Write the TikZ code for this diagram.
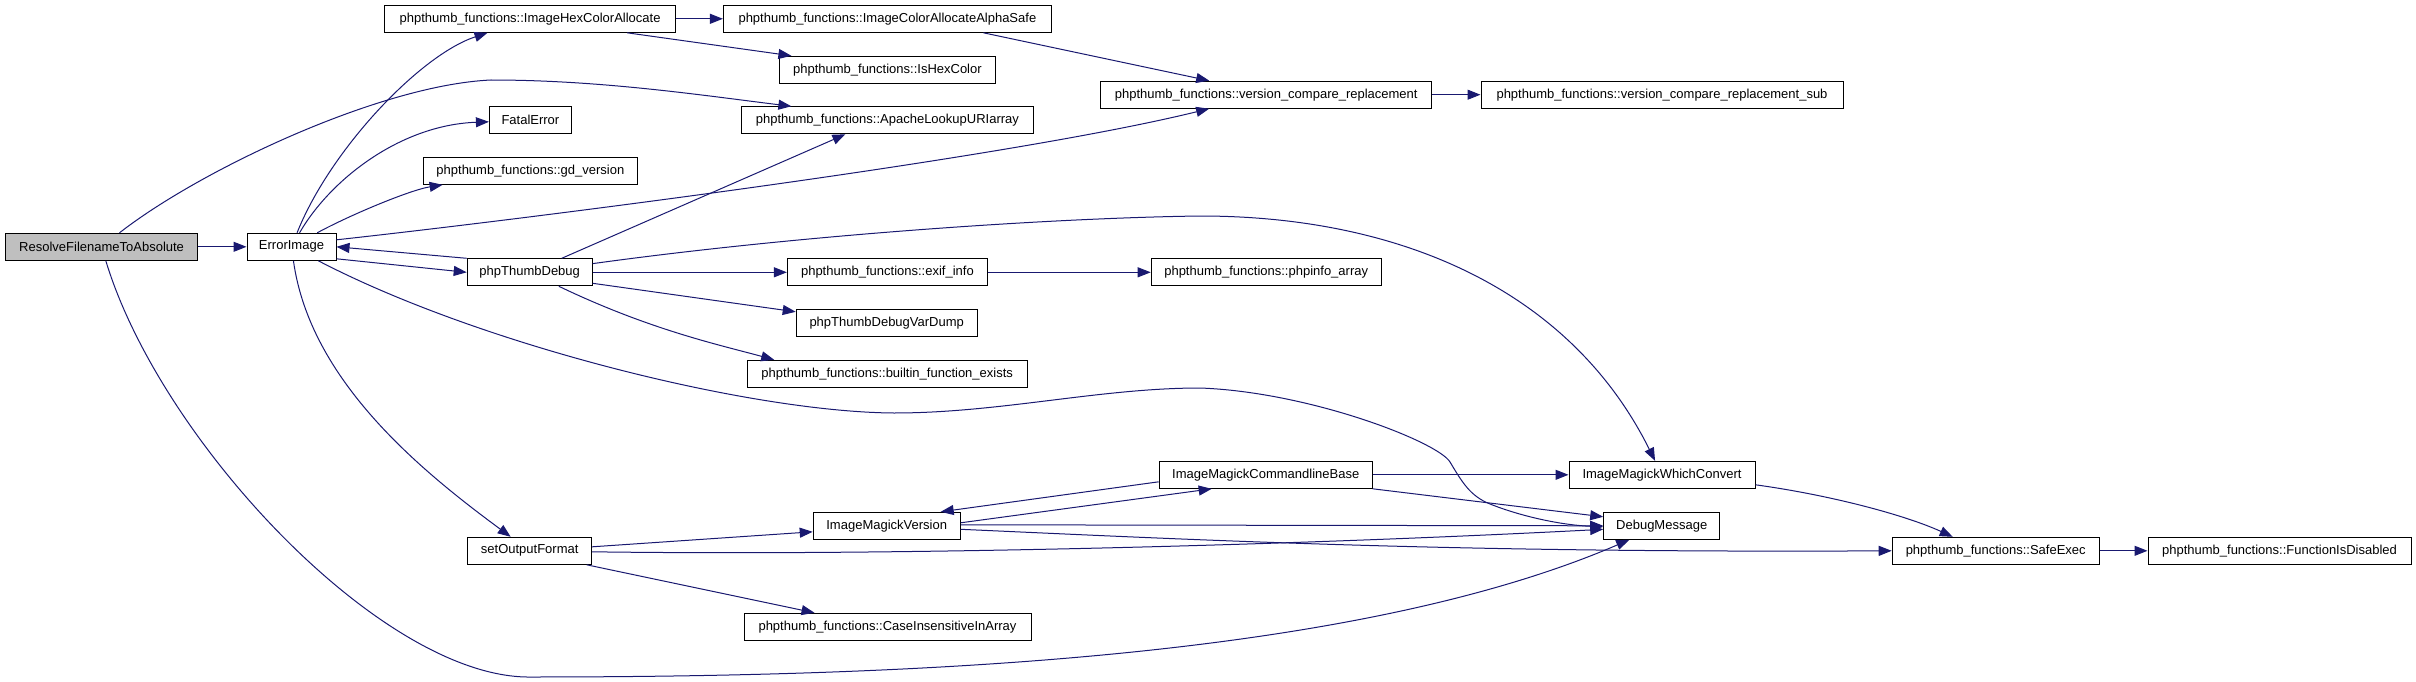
\documentclass[tikz,border=0pt]{standalone}
\usepackage{fontspec}
\setmainfont{Liberation Sans}
\usetikzlibrary{arrows.meta}
\definecolor{edgeblue}{HTML}{191970}
\definecolor{rootgray}{HTML}{BFBFBF}

\begin{document}
\begin{tikzpicture}[x=1pt, y=-1pt,
  fn/.style={rectangle, draw, line width=1pt, fill=white, minimum width=#1, minimum height=27pt, inner xsep=2pt, font=\fontsize{13}{15}\selectfont},
  call/.style={-{Triangle[length=13pt,width=10pt]}, edgeblue, line width=1pt}
]
  \useasboundingbox (0,0) rectangle (2416,682);
  % functions
  \node[fn=192pt, fill=rootgray] (resolve) at (101.6,246.8) {ResolveFilenameToAbsolute};
  \node[fn=89pt] (errimg) at (291.5,246.8) {ErrorImage};
  \node[fn=291pt] (hexcolor) at (530.1,18.8) {phpthumb\_functions::ImageHexColorAllocate};
  \node[fn=82pt] (fatal) at (530.4,120.3) {FatalError};
  \node[fn=214pt] (gdver) at (530.4,170.8) {phpthumb\_functions::gd\_version};
  \node[fn=125pt] (thumbdbg) at (529.7,272.3) {phpThumbDebug};
  \node[fn=124pt] (outfmt) at (529.7,550.8) {setOutputFormat};
  \node[fn=328pt] (alphasafe) at (887.4,18.8) {phpthumb\_functions::ImageColorAllocateAlphaSafe};
  \node[fn=216pt] (ishex) at (887.4,69.8) {phpthumb\_functions::IsHexColor};
  \node[fn=292pt] (apache) at (887.4,120.3) {phpthumb\_functions::ApacheLookupURIarray};
  \node[fn=200pt] (exif) at (887.4,272.3) {phpthumb\_functions::exif\_info};
  \node[fn=181pt] (vardump) at (886.7,322.8) {phpThumbDebugVarDump};
  \node[fn=280pt] (builtin) at (887.2,373.8) {phpthumb\_functions::builtin\_function\_exists};
  \node[fn=147pt] (imver) at (886.7,525.8) {ImageMagickVersion};
  \node[fn=287pt] (caseins) at (887.5,626.8) {phpthumb\_functions::CaseInsensitiveInArray};
  \node[fn=331pt] (vcr) at (1266.2,94.7) {phpthumb\_functions::version\_compare\_replacement};
  \node[fn=230pt] (phpinfo) at (1266.2,272.3) {phpthumb\_functions::phpinfo\_array};
  \node[fn=213pt] (clbase) at (1265.7,474.8) {ImageMagickCommandlineBase};
  \node[fn=362pt] (vcrsub) at (1662,94.7) {phpthumb\_functions::version\_compare\_replacement\_sub};
  \node[fn=186pt] (whichconv) at (1662,474.8) {ImageMagickWhichConvert};
  \node[fn=116pt] (debugmsg) at (1661.7,525.8) {DebugMessage};
  \node[fn=207pt] (safeexec) at (1995.7,550.8) {phpthumb\_functions::SafeExec};
  \node[fn=263pt] (fdisabled) at (2279.5,550.8) {phpthumb\_functions::FunctionIsDisabled};

  % calls from the root
  \draw[call] (resolve) -- (errimg);
  \draw[call] (resolve) .. controls (200,170) and (380,85) .. (491,80) .. controls (600,80) and (700,95) .. ([xshift=-96pt]apache.north);
  \draw[call] (resolve) .. controls (160,440) and (380,675) .. (527,677) .. controls (900,677) and (1350,660) .. (debugmsg);
  % ErrorImage
  \draw[call] (errimg) .. controls (330,150) and (420,55) .. (hexcolor);
  \draw[call] (errimg) .. controls (330,180) and (400,125) .. (fatal);
  \draw[call] (errimg) .. controls (350,215) and (410,190) .. (gdver);
  \draw[call] ([yshift=-12pt]errimg.east) -- (thumbdbg.west);
  \draw[call] ([yshift=7pt]errimg.east) .. controls (500,222) and (1000,160) .. (vcr);
  \draw[call] (errimg) .. controls (480,345) and (750,412) .. (894,413) .. controls (1000,413) and (1100,388) .. (1200,388) .. controls (1310,392) and (1438,442) .. (1450,462) .. controls (1462,482) and (1470,496) .. (1490,504) .. controls (1520,516) and (1560,525) .. ([yshift=-1pt]debugmsg.west);
  \draw[call] (errimg) .. controls (310,380) and (420,470) .. (outfmt);
  % phpThumbDebug
  \draw[call] (thumbdbg.north west) -- (errimg.east);
  \draw[call] ([xshift=32pt]thumbdbg.north) -- ([xshift=-42pt]apache.south);
  \draw[call] (thumbdbg) .. controls (800,235) and (1050,218) .. (1200,216) .. controls (1400,216) and (1570,290) .. (whichconv);
  \draw[call] (thumbdbg) -- (exif);
  \draw[call] ([yshift=-11pt]thumbdbg.east) -- ([yshift=11pt]vardump.west);
  \draw[call] (thumbdbg) .. controls (650,330) and (720,345) .. ([xshift=-113pt]builtin.north);
  % helpers
  \draw[call] (hexcolor) -- (alphasafe);
  \draw[call] ([xshift=97pt]hexcolor.south) -- ([xshift=-96pt]ishex.north);
  \draw[call] ([xshift=96pt]alphasafe.south) -- ([xshift=-57pt]vcr.north);
  \draw[call] (vcr) -- (vcrsub);
  \draw[call] (exif) -- (phpinfo);
  % setOutputFormat
  \draw[call] ([yshift=4pt]outfmt.east) -- ([yshift=-6pt]imver.west);
  \draw[call] ([yshift=-1pt]outfmt.east) .. controls (900,556) and (1300,545) .. ([yshift=-3.5pt]debugmsg.west);
  \draw[call] ([xshift=57pt]outfmt.south) -- ([xshift=-73pt]caseins.north);
  % ImageMagick
  \draw[call] ([yshift=3pt]imver.east) -- ([xshift=-54pt]clbase.south);
  \draw[call] ([yshift=1pt]imver.east) -- (debugmsg.west);
  \draw[call] ([yshift=-3.5pt]imver.east) .. controls (1200,540) and (1450,553) .. (safeexec.west);
  \draw[call] ([yshift=-7pt]clbase.west) -- ([xshift=54pt]imver.north);
  \draw[call] (clbase) -- (whichconv);
  \draw[call] (clbase.south east) -- ([yshift=9pt]debugmsg.west);
  \draw[call] ([yshift=-10pt]whichconv.east) .. controls (1830,495) and (1905,515) .. ([xshift=-43pt]safeexec.north);
  \draw[call] (safeexec) -- (fdisabled);
\end{tikzpicture}
\end{document}
